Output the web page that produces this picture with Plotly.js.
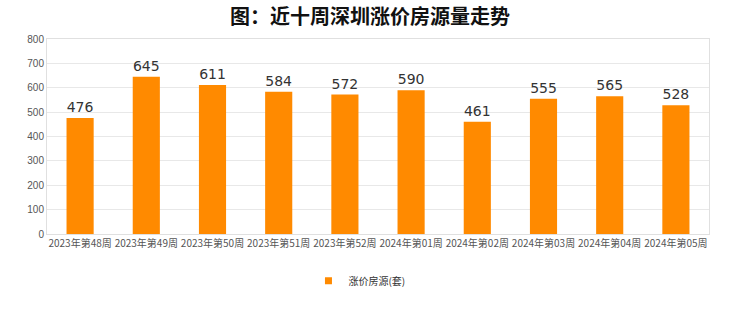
<!DOCTYPE html>
<html><head><meta charset="utf-8">
<script src="https://cdn.plot.ly/plotly-3.0.1.min.js"></script>
<style>body{margin:0;background:#fff}#c{width:740px;height:312px}</style>
</head><body><div id="c"></div>
<script>
const categories = ["2023年第48周","2023年第49周","2023年第50周","2023年第51周","2023年第52周","2024年第01周","2024年第02周","2024年第03周","2024年第04周","2024年第05周"];
const values = [476,645,611,584,572,590,461,555,565,528];
const seriesName = "涨价房源(套)";
const yTicks = [0,100,200,300,400,500,600,700,800];

const font = '"Noto Sans CJK SC", "Noto Sans", sans-serif';
const barColor = '#FF8A00';
Plotly.newPlot('c', [{
  type: 'bar', x: categories, y: values, name: seriesName, showlegend: false,
  marker: {color: barColor}, width: 0.41,
  text: values.map(String), textposition: 'outside', cliponaxis: false,
  textfont: {size: 14, color: '#333', family: '"DejaVu Sans", sans-serif'}
}, {
  type: 'scatter', mode: 'markers', x: [null], y: [null], name: seriesName, showlegend: true,
  marker: {symbol: 'square', size: 7, color: barColor}
}], {
  width: 740, height: 312,
  margin: {l: 47, r: 31, t: 39, b: 78, autoexpand: false},
  paper_bgcolor: '#fff', plot_bgcolor: '#fff',
  title: {text: '图：近十周深圳涨价房源量走势', x: 0.5, xanchor: 'center', y: 0.945, yanchor: 'middle',
    font: {size: 20, color: '#111', family: font, weight: 'bold'}},
  showlegend: true,
  legend: {orientation: 'h', x: 0.472, xanchor: 'center', yref: 'container', y: 0.1, yanchor: 'middle',
    font: {size: 10, color: '#333', family: font}, itemwidth: 30},
  xaxis: {type: 'category', showline: true, linecolor: '#e0e0e0', mirror: true, ticks: '',
    tickfont: {size: 10, color: '#555', family: font}, tickangle: 0, automargin: false},
  yaxis: {range: [0, 800], tickvals: yTicks, showgrid: true, gridcolor: '#e8e8e8',
    showline: true, linecolor: '#e0e0e0', mirror: true, zeroline: false, ticks: '', automargin: false,
    tickfont: {size: 10, color: '#555', family: '"Liberation Sans", sans-serif'}}
}, {displayModeBar: false, staticPlot: true});
</script></body></html>
